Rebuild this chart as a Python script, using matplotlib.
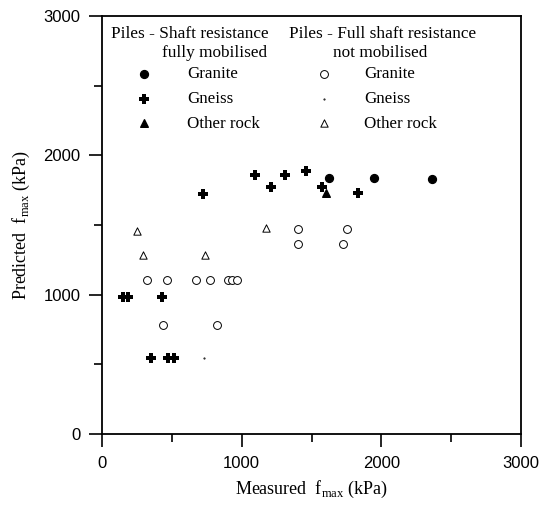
import matplotlib.pyplot as plt
from matplotlib.ticker import MultipleLocator

plt.rcParams['font.family'] = 'Liberation Serif'
plt.rcParams['mathtext.fontset'] = 'custom'
plt.rcParams['mathtext.rm'] = 'Liberation Serif'

# shaft resistance fully mobilised
gr_full_x = [1625, 1948, 2366]
gr_full_y = [1835, 1835, 1833]
gn_full_x = [1096, 1311, 1464, 1208, 1577, 1833, 723, 151, 187, 428, 349, 469, 517]
gn_full_y = [1859, 1859, 1886, 1771, 1771, 1730, 1725, 985, 985, 985, 546, 546, 546]
ot_full_x = [1601]
ot_full_y = [1728]

# full shaft resistance not mobilised
gr_not_x = [1400, 1752, 1400, 1723, 321, 467, 672, 775, 904, 933, 967, 436, 820]
gr_not_y = [1474, 1474, 1364, 1364, 1108, 1108, 1108, 1108, 1108, 1108, 1108, 782, 782]
gn_not_x = [727]
gn_not_y = [546]
ot_not_x = [251, 294, 739, 1177]
ot_not_y = [1455, 1285, 1285, 1479]

fig = plt.figure(figsize=(5.43, 5.09), dpi=100)
ax = fig.add_axes([102/543, 1-434/509, 419/543, 418/509])

h1 = ax.scatter(gr_full_x, gr_full_y, s=32, marker='o', c='black')
h2 = ax.scatter(gn_full_x, gn_full_y, s=44, marker='P', c='black', linewidths=0)
h3 = ax.scatter(ot_full_x, ot_full_y, s=30, marker='^', c='black')
h4 = ax.scatter(gr_not_x, gr_not_y, s=32, marker='o', facecolors='white',
                edgecolors='black', linewidths=0.7)
h5 = ax.scatter(gn_not_x, gn_not_y, s=1, marker='.', c='black')
h6 = ax.scatter(ot_not_x, ot_not_y, s=28, marker='^', facecolors='white',
                edgecolors='black', linewidths=0.7)

ax.set_xlim(0, 3000)
ax.set_ylim(0, 3000)
ax.xaxis.set_major_locator(MultipleLocator(1000))
ax.xaxis.set_minor_locator(MultipleLocator(500))
ax.yaxis.set_major_locator(MultipleLocator(1000))
ax.yaxis.set_minor_locator(MultipleLocator(500))
ax.tick_params(which='major', direction='out', length=9.5, width=1.2)
ax.tick_params(which='minor', direction='out', length=5.5, width=1.2)
ax.tick_params(labelsize=12, pad=6)
for lab in ax.get_xticklabels() + ax.get_yticklabels():
    lab.set_fontfamily('Liberation Sans')
for sp in ax.spines.values():
    sp.set_linewidth(1.3)

ax.set_xlabel(r'Measured  f$_{\mathregular{max}}$ (kPa)', fontsize=13, labelpad=6)
ax.set_ylabel(r'Predicted  f$_{\mathregular{max}}$ (kPa)', fontsize=13, labelpad=8)

ax.text(0.021, 0.957, 'Piles - Shaft resistance', transform=ax.transAxes,
        fontsize=12.4, ha='left', va='center')
ax.text(0.268, 0.912, 'fully mobilised', transform=ax.transAxes,
        fontsize=12.4, ha='center', va='center')
ax.text(0.670, 0.957, 'Piles - Full shaft resistance', transform=ax.transAxes,
        fontsize=12.4, ha='center', va='center')
ax.text(0.663, 0.912, 'not mobilised', transform=ax.transAxes,
        fontsize=12.4, ha='center', va='center')

leg1 = ax.legend([h1, h2, h3], ['Granite', 'Gneiss', 'Other rock'],
                 loc='upper left', bbox_to_anchor=(0.06, 0.880), frameon=False,
                 fontsize=12.2, borderpad=0, borderaxespad=0, labelspacing=0.52,
                 handlelength=2, handletextpad=1.55)
ax.add_artist(leg1)
ax.legend([h4, h5, h6], ['Granite', 'Gneiss', 'Other rock'],
          loc='upper left', bbox_to_anchor=(0.49, 0.880), frameon=False,
          fontsize=12.2, borderpad=0, borderaxespad=0, labelspacing=0.52,
          handlelength=2, handletextpad=1.35)

fig.savefig('out.png', dpi=100)
